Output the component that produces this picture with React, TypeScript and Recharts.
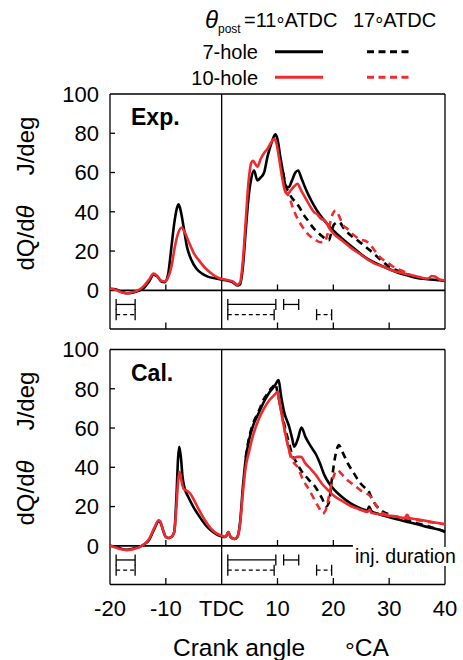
import React from "react";
import { LineChart, Line, XAxis, YAxis, ReferenceLine } from "recharts";

const FONT = "'Liberation Sans', Arial, Helvetica, sans-serif";
const BLACK = "#000000";
const RED = "#ee2b2e";
const Y_MIN = -19.7;

const xTicks = [-20, -10, 0, 10, 20, 30, 40];
const yTicks = [0, 20, 40, 60, 80, 100];
const innerXTicks = [-10, 10, 20, 30];
const innerYTicks = [20, 40, 60, 80];

type Pt = [number, number];

// Exp. — 7-hole / 10-hole, post injection at 11 and 17 ATDC
const exp7hole11: Pt[] = [
  [-20, 0.8], [-19, 0.5], [-18, -0.8], [-17, -1.5], [-16, -1.2], [-15, -0.3], [-14, 1], [-13, 4.5],
  [-12.2, 8], [-11.5, 7], [-10.8, 4.5], [-10.2, 4.2], [-9.6, 8], [-9.0, 22], [-8.5, 34], [-8.0, 42],
  [-7.7, 43.8], [-7.3, 40], [-6.8, 32], [-6.2, 22], [-5.5, 16], [-4.5, 11], [-3.5, 8.5], [-2.5, 7],
  [-1, 6], [0, 5.4], [1, 5], [2, 4], [2.8, 2.5], [3.3, 3], [3.8, 12], [4.3, 30], [4.8, 47], [5.3, 57],
  [5.8, 61], [6.4, 56], [7.0, 57.5], [7.6, 60], [8.2, 68], [8.8, 74], [9.3, 78], [9.6, 79.5], [10.0, 77],
  [10.5, 68], [11.0, 60], [11.5, 53], [12.0, 52.5], [12.6, 56], [13.2, 60], [13.7, 61], [14.3, 57],
  [15, 52], [16, 46], [17, 41], [18, 37], [19, 33.5], [20, 30.5], [21.5, 26.5], [23, 23], [24.5, 19.5],
  [26, 16.3], [27.5, 14], [29, 12], [30.5, 10.2], [32, 8.6], [33.5, 7.4], [35, 6.3], [36.5, 5.8],
  [38, 5.4], [39, 5.2], [40, 4.8],
];
const exp10hole11: Pt[] = [
  [-20, 0.8], [-19, 0.3], [-18, -1], [-17, -1.5], [-16, -1], [-15, 0], [-14, 2], [-13, 5.5],
  [-12.2, 8.5], [-11.6, 7.5], [-10.9, 5], [-10.2, 4.5], [-9.6, 6.5], [-9.0, 12], [-8.4, 22], [-7.8, 29],
  [-7.2, 32], [-6.6, 29.5], [-5.8, 24], [-5, 19], [-4, 15], [-3, 11.5], [-2, 9], [-1, 7], [0, 5.8],
  [1, 5.3], [2, 4.5], [2.8, 2.8], [3.3, 4], [3.8, 15], [4.3, 35], [4.8, 55], [5.3, 65], [5.6, 66],
  [6.0, 64.5], [6.4, 63], [7.0, 67], [7.6, 70], [8.2, 72], [8.8, 75], [9.4, 77.2], [9.8, 75], [10.3, 67],
  [10.8, 58], [11.3, 51], [11.8, 49], [12.4, 51], [13.0, 53], [13.6, 54.3], [14.2, 51], [15, 47],
  [15.8, 43], [16.5, 40], [17.2, 38.5], [17.8, 36.5], [18.5, 35.5], [19.2, 32], [20, 29], [21.5, 25.5],
  [23, 22], [24.5, 19], [26, 16], [27.5, 13.5], [29, 12], [30.5, 10.2], [32, 9], [33.5, 8], [35, 7],
  [36, 6.3], [37, 6], [37.6, 7.3], [38.2, 7], [39, 5.5], [40, 5],
];
const exp7hole17: Pt[] = [
  [11.0, 60], [11.5, 53], [12.0, 50], [12.6, 47], [13.2, 45], [13.9, 42.4], [14.8, 38], [15.6, 35],
  [16.3, 32.2], [17.2, 29.5], [18, 27.5], [18.7, 26], [19.2, 25.5], [19.6, 29], [20.1, 33.5], [21, 34.8],
  [22, 31], [23.1, 28], [24.3, 25.5], [25.5, 22.9], [26.7, 20], [27.9, 17], [29, 14.3], [30, 12],
  [31.5, 10], [33, 8.3], [34, 7.6],
];
const exp10hole17: Pt[] = [
  [11.3, 51], [11.8, 49], [12.3, 46], [12.7, 42.4], [13.5, 37], [14.5, 32.2], [15.5, 28.5], [16.3, 26.5],
  [16.9, 25.5], [17.6, 24.5], [18.4, 24.6], [18.9, 28], [19.4, 34], [19.9, 39], [20.4, 40.7], [21, 38],
  [21.8, 33], [22.5, 31.4], [23.5, 28.5], [24.8, 26], [26.1, 24.6], [27.5, 20], [28.5, 16.5],
  [29.1, 15.3], [30.5, 12.5], [32.1, 10.2], [33.5, 8.5],
];

// Cal. — same cases, calculated
const cal7hole11: Pt[] = [
  [-20, 0], [-19, -0.5], [-18, -1.5], [-17, -2], [-16, -1.5], [-15, -0.8], [-14, 0.5], [-13, 3],
  [-12, 9], [-11.3, 12.5], [-11, 12], [-10.5, 8], [-10, 4.5], [-9.5, 4], [-9, 4.5], [-8.5, 7],
  [-8.1, 25], [-7.8, 45], [-7.6, 50.4], [-7.3, 45], [-7, 35], [-6.6, 29], [-6, 25], [-5, 19.5],
  [-4, 15], [-3, 11], [-2, 8], [-1, 6], [0, 4.8], [0.7, 4.5], [1.2, 7], [1.6, 4.5], [2.3, 3.5],
  [2.8, 4.5], [3.3, 12], [3.8, 30], [4.3, 44], [4.9, 53.8], [5.6, 61], [6.7, 68], [7.5, 73],
  [8.5, 78], [9.5, 81.5], [10.2, 84.4], [10.6, 77], [11.2, 68], [12.1, 60.6], [12.6, 55], [13, 50.5],
  [13.6, 54], [14.3, 60.2], [15, 55.5], [16, 50.5], [16.9, 46.5], [17.6, 42], [18.4, 36], [19.2, 32],
  [20.1, 28.8], [21.5, 25], [23.1, 21.6], [24.5, 19.5], [26.1, 18], [26.4, 20], [26.8, 17.8],
  [28, 16.3], [29.1, 15.3], [31, 13.8], [33.3, 12.2], [35, 11], [37, 9.5], [39.2, 8], [40, 7.3],
];
const cal10hole11: Pt[] = [
  [-20, 0], [-19, -0.8], [-18, -1.8], [-17, -2.2], [-16, -1.8], [-15, -1], [-14, 0.5], [-13, 3.5],
  [-12, 9.5], [-11.3, 13], [-11, 12.5], [-10.5, 8], [-10, 4.5], [-9.5, 4], [-9, 4.5], [-8.5, 7],
  [-8.1, 20], [-7.8, 33], [-7.5, 37.7], [-7.2, 33], [-6.8, 29], [-6.2, 28], [-5.6, 26.5], [-5, 23.5],
  [-4, 18], [-3, 13], [-2, 9], [-1, 6.5], [0, 5.2], [0.7, 4.6], [1.2, 7], [1.6, 4.5], [2.3, 3.5],
  [2.8, 4.5], [3.3, 11], [3.8, 27], [4.3, 40], [4.9, 48], [5.6, 56], [6.7, 64.9], [7.5, 69.5],
  [8.5, 74], [9.5, 77], [10, 78.4], [10.5, 71], [11.2, 60], [11.8, 52], [12.4, 46], [12.9, 44.5],
  [13.5, 45.3], [14.2, 45.3], [15, 42], [16, 39], [16.9, 36], [18, 31.5], [19, 28.5], [20.1, 25.5],
  [21.5, 23], [23.1, 20.3], [24.5, 18.8], [26.1, 17.3], [26.5, 18.5], [26.8, 16.8], [28, 16.2],
  [29.1, 15.6], [31, 15], [32.8, 14.2], [33.2, 15.8], [33.6, 14.2], [35, 13.5], [37, 12.5],
  [39.2, 11.4], [40, 11],
];
const cal7hole17: Pt[] = [
  [4.3, 45], [4.9, 55], [5.6, 62], [6.7, 69], [7.5, 74.5], [8.2, 77.5], [8.8, 80], [9.3, 81.5],
  [9.6, 82.7], [10.0, 78], [10.6, 70], [11.2, 62], [12, 53], [12.7, 46], [13.3, 43], [14.2, 38.5],
  [15.5, 34], [16.9, 29.5], [18, 24], [18.7, 20], [19.2, 22], [19.7, 33], [20.3, 45], [21, 51.3],
  [21.6, 48], [22.6, 42], [23.7, 36.9], [24.8, 32], [25.8, 29.2], [26.3, 28], [26.9, 24], [28, 19.5],
  [28.5, 18.2], [30, 16], [32.1, 14], [35.1, 11.4], [37.5, 9.5], [39.2, 8], [40, 7],
];
const cal10hole17: Pt[] = [
  [10.0, 78.4], [10.5, 71], [11.2, 60], [11.8, 52], [12.4, 45], [13, 42], [13.6, 40.2], [14.5, 34],
  [15.7, 28.4], [16.8, 22.5], [17.5, 19], [18.1, 16.5], [18.6, 18], [19.2, 25], [19.8, 33], [20.7, 38.5],
  [21.5, 36.5], [22.5, 33.5], [23.7, 30.9], [25, 28], [26.7, 25], [27.6, 21], [28.5, 17.3], [30, 15.5],
  [32, 14.5], [34, 13.5], [36, 12.6], [38, 11.8], [40, 11],
];

// injection duration bars (start, end crank angle)
const injSolid: Pt[] = [[-18.9, -15.5], [1.1, 9.7], [11.1, 13.8]];
const injDashed: Pt[] = [[-18.9, -15.5], [1.1, 9.4], [17.0, 19.7]];
const INJ_Y_SOLID = -7.2;
const INJ_Y_DASHED = -12.4;

const pts = (a: Pt[]) => a.map(([x, y]) => ({ x, y }));

interface Curve {
  name: string;
  data: Pt[];
  color: string;
  dashed?: boolean;
}

const expCurves: Curve[] = [
  { name: "e7_11", data: exp7hole11, color: BLACK },
  { name: "e7_17", data: exp7hole17, color: BLACK, dashed: true },
  { name: "e10_11", data: exp10hole11, color: RED },
  { name: "e10_17", data: exp10hole17, color: RED, dashed: true },
];
const calCurves: Curve[] = [
  { name: "c7_17", data: cal7hole17, color: BLACK, dashed: true },
  { name: "c7_11", data: cal7hole11, color: BLACK },
  { name: "c10_11", data: cal10hole11, color: RED },
  { name: "c10_17", data: cal10hole17, color: RED, dashed: true },
];

const seg = (x1: number, y1: number, x2: number, y2: number) => [
  { x: x1, y: y1 },
  { x: x2, y: y2 },
];

function Panel({
  curves,
  height,
  margin,
  showX,
  zeroEnd,
  zeroTicks,
}: {
  curves: Curve[];
  height: number;
  margin: { top: number; right: number; bottom: number; left: number };
  showX: boolean;
  zeroEnd: number;
  zeroTicks: number[];
}) {
  const tickStyle = { fontSize: 22, fill: BLACK, fontFamily: FONT };
  const frame = { stroke: BLACK, strokeWidth: 1.3 };
  return (
    <LineChart width={463} height={height} margin={margin}>
      <XAxis
        type="number"
        dataKey="x"
        domain={[-20, 40]}
        ticks={xTicks}
        interval={0}
        hide={!showX}
        height={showX ? 75.5 : 0}
        axisLine={false}
        tickLine={false}
        tickSize={0}
        tickMargin={16}
        tick={tickStyle}
        tickFormatter={(v) => (v === 0 ? "TDC" : String(v))}
      />
      <YAxis
        type="number"
        domain={[Y_MIN, 100]}
        ticks={yTicks}
        interval={0}
        width={110}
        axisLine={false}
        tickLine={false}
        tickSize={0}
        tickMargin={11}
        tick={tickStyle}
      />
      {/* box */}
      <ReferenceLine segment={seg(-20, Y_MIN, -20, 100)} {...frame} />
      <ReferenceLine segment={seg(40, Y_MIN, 40, 100)} {...frame} />
      <ReferenceLine segment={seg(-20, 100, 40, 100)} {...frame} />
      <ReferenceLine segment={seg(-20, Y_MIN, 40, Y_MIN)} {...frame} />
      <ReferenceLine segment={seg(0, Y_MIN, 0, 100)} {...frame} />
      <ReferenceLine segment={seg(-20, 0, zeroEnd, 0)} stroke={BLACK} strokeWidth={1.8} />
      {innerYTicks.map((t) => (
        <ReferenceLine key={"yt" + t} segment={seg(-20, t, -19.1, t)} {...frame} />
      ))}
      {innerXTicks.map((t) => (
        <ReferenceLine key={"xt" + t} segment={seg(t, Y_MIN, t, Y_MIN + 3.3)} {...frame} />
      ))}
      {zeroTicks.map((t) => (
        <ReferenceLine key={"zt" + t} segment={seg(t, 0, t, 3)} {...frame} />
      ))}
      {/* injection durations */}
      {injSolid.map(([a, b]) => (
        <React.Fragment key={"is" + a}>
          <ReferenceLine segment={seg(a, INJ_Y_SOLID, b, INJ_Y_SOLID)} stroke={BLACK} strokeWidth={1.3} />
          <ReferenceLine segment={seg(a, INJ_Y_SOLID + 2.8, a, INJ_Y_SOLID - 2.8)} stroke={BLACK} strokeWidth={1.3} />
          <ReferenceLine segment={seg(b, INJ_Y_SOLID + 2.8, b, INJ_Y_SOLID - 2.8)} stroke={BLACK} strokeWidth={1.3} />
        </React.Fragment>
      ))}
      {injDashed.map(([a, b]) => (
        <React.Fragment key={"id" + a}>
          <ReferenceLine
            segment={seg(a, INJ_Y_DASHED, b, INJ_Y_DASHED)}
            stroke={BLACK}
            strokeWidth={1.3}
            strokeDasharray="4 3"
          />
          <ReferenceLine segment={seg(a, INJ_Y_DASHED + 2.8, a, INJ_Y_DASHED - 2.8)} stroke={BLACK} strokeWidth={1.3} />
          <ReferenceLine segment={seg(b, INJ_Y_DASHED + 2.8, b, INJ_Y_DASHED - 2.8)} stroke={BLACK} strokeWidth={1.3} />
        </React.Fragment>
      ))}
      {curves.map((c) => (
        <Line
          key={c.name}
          data={pts(c.data)}
          dataKey="y"
          type="monotone"
          stroke={c.color}
          strokeWidth={2.6}
          strokeDasharray={c.dashed ? "7 5" : undefined}
          dot={false}
          activeDot={false}
          isAnimationActive={false}
        />
      ))}
    </LineChart>
  );
}

function YTitle({ cy }: { cy: number }) {
  return (
    <>
      <text transform={`translate(34,${cy - 46}) rotate(-90)`} textAnchor="middle" fontSize={24}>
        J/deg
      </text>
      <text transform={`translate(34,${cy + 46}) rotate(-90)`} textAnchor="middle" fontSize={24}>
        dQ/d<tspan fontStyle="italic">θ</tspan>
      </text>
    </>
  );
}

// degree mark lowered to mid-cap height, as in the original figure
function Deg({ drop }: { drop: number }) {
  return <tspan baselineShift={-drop}>°</tspan>;
}

export default function App() {
  return (
    <div style={{ position: "absolute", left: 0, top: 0, width: 463, height: 660, background: "#fff", fontFamily: FONT }}>
      <div style={{ position: "absolute", left: 0, top: 0 }}>
        <Panel
          curves={expCurves}
          height={330}
          margin={{ top: 94, right: 18, bottom: 1, left: 0 }}
          showX={false}
          zeroEnd={40}
          zeroTicks={innerXTicks}
        />
      </div>
      <div style={{ position: "absolute", left: 0, top: 330 }}>
        <Panel
          curves={calCurves}
          height={330}
          margin={{ top: 19.5, right: 18, bottom: 0, left: 0 }}
          showX={true}
          zeroEnd={23.5}
          zeroTicks={[-10, 10, 20]}
        />
      </div>
      <svg
        width={463}
        height={660}
        style={{ position: "absolute", left: 0, top: 0, pointerEvents: "none" }}
        fontFamily={FONT}
        fill={BLACK}
      >
        {/* legend */}
        <text x={205} y={28} fontSize={24} fontStyle="italic">θ</text>
        <text x={218} y={33} fontSize={12}>post</text>
        <text x={244} y={27} fontSize={20}>
          =11<Deg drop={5} />ATDC
        </text>
        <text x={353} y={27} fontSize={20}>
          17<Deg drop={5} />ATDC
        </text>
        <text x={258} y={58.5} fontSize={20} textAnchor="end">7-hole</text>
        <text x={258} y={84.5} fontSize={20} textAnchor="end">10-hole</text>
        <line x1={275} x2={323} y1={51.7} y2={51.7} stroke={BLACK} strokeWidth={3} />
        <line x1={367} x2={409} y1={51.7} y2={51.7} stroke={BLACK} strokeWidth={3} strokeDasharray="7 4.5" />
        <line x1={275} x2={323} y1={77.3} y2={77.3} stroke={RED} strokeWidth={3} />
        <line x1={367} x2={409} y1={77.3} y2={77.3} stroke={RED} strokeWidth={3} strokeDasharray="7 4.5" />
        {/* panel labels */}
        <text x={131} y={125} fontSize={23} fontWeight="bold">Exp.</text>
        <text x={131} y={381} fontSize={23} fontWeight="bold">Cal.</text>
        <rect x={353} y={547} width={110} height={19} fill="#fff" />
        <text x={355} y={563} fontSize={19.5}>inj. duration</text>
        {/* axis titles */}
        <YTitle cy={192} />
        <YTitle cy={447} />
        <text x={173} y={655.5} fontSize={24.5}>Crank angle</text>
        <text x={345} y={655.5} fontSize={24.5}>
          <Deg drop={3} />CA
        </text>
      </svg>
    </div>
  );
}
